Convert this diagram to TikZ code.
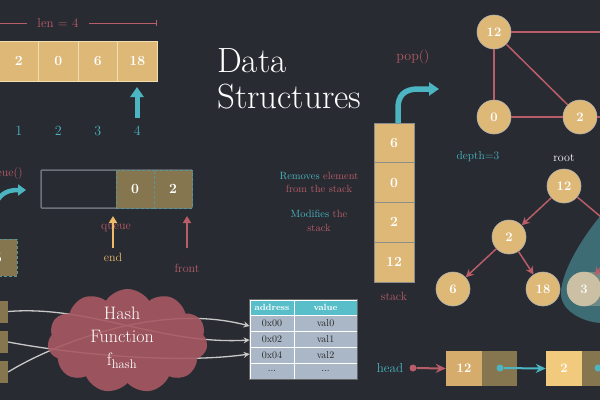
\documentclass[tikz,border=0pt]{standalone}
\usetikzlibrary{shapes.symbols,arrows.meta}
\definecolor{bg}{RGB}{40,43,50}
\definecolor{gold}{RGB}{221,184,119}
\definecolor{golddk}{RGB}{214,172,108}
\definecolor{goldlt}{RGB}{242,202,126}
\definecolor{cyanc}{RGB}{75,182,194}
\definecolor{redc}{RGB}{185,93,104}
\definecolor{olive}{RGB}{133,118,80}
\definecolor{hdr}{RGB}{88,190,202}
\definecolor{rowc}{RGB}{169,183,198}
\definecolor{tealb}{RGB}{62,108,117}
\definecolor{pale}{RGB}{203,192,164}
\definecolor{cloudc}{RGB}{168,88,98}
\definecolor{grayl}{RGB}{200,200,200}
\definecolor{qborder}{RGB}{108,114,124}
\definecolor{cream}{RGB}{243,222,178}
\definecolor{endc}{RGB}{236,186,106}
\definecolor{dashc}{RGB}{90,150,150}
\newcommand\fsz[1]{\fontsize{#1}{#1}\selectfont}
\tikzset{
  arrcell/.style={fill=gold, draw=cream, line width=0.8pt, minimum width=39.5pt, minimum height=40pt, inner sep=0pt, text=white, font=\fsz{14}\bfseries},
  stkcell/.style={fill=gold, draw=black!45, line width=1pt, minimum width=40pt, minimum height=39.75pt, inner sep=0pt, text=white, font=\fsz{14}\bfseries},
  qcell/.style={fill=olive, draw=dashc, dashed, dash pattern=on 3pt off 2pt, line width=0.8pt, minimum width=38pt, minimum height=38pt, inner sep=0pt, text=white, font=\fsz{14}\bfseries},
  gnode/.style={circle, fill=gold, draw=black!30, line width=0.6pt, minimum size=34pt, inner sep=0pt, text=white, font=\fsz{13}\bfseries},
  gedge/.style={redc, line width=1.5pt},
  tedge/.style={redc, line width=1.5pt, -{Stealth[length=8pt,width=8pt]}},
  bigarrow/.style={cyanc, line width=5pt, -{Triangle[length=10pt,width=13pt]}},
  lbl/.style={inner sep=0pt, font=\fsz{12}},
  tcell/.style={fill=rowc, draw=white, line width=0.8pt, minimum height=16pt, inner sep=0pt, text=black!85, font=\fsz{10}},
  thead/.style={tcell, fill=hdr, text=white, font=\fsz{9}\bfseries, minimum height=15pt},
  hline/.style={grayl, line width=1.3pt, -{Stealth[length=6pt,width=6pt]}},
  lcell/.style={minimum width=36pt, minimum height=35pt, inner sep=0pt, text=white, font=\fsz{13}\bfseries},
  dot/.style={circle, minimum size=7pt, inner sep=0pt},
  larrow/.style={line width=2pt, -{Stealth[length=10pt,width=9pt]}}
}
\begin{document}
\begin{tikzpicture}[x=1pt,y=-1pt]
\useasboundingbox (0,0) rectangle (600,400);
\fill[bg] (0,0) rectangle (600,400);

% ---------- array ----------
\foreach \v [count=\i] in {2,0,6,18} {
  \node[arrcell] (a\i) at ({-1+39.5*(\i-0.5)},61) {\v};
  \node[lbl, text=cyanc, font=\fsz{14}] (idx\i) at ({-1+39.5*(\i-0.5)},131) {\i};
}
\coordinate (l0) at (-5,23);
\coordinate (l1) at (157,23);
\node[lbl, text=redc, font=\fsz{13}, inner xsep=10pt] (len) at (58,23) {len = 4};
\draw[redc, line width=1pt] (l0) -- (len.west);
\draw[redc, line width=1pt, -{Bar[width=6pt]}] (len.east) -- (l1);
\coordinate (ar0) at (137,118);
\coordinate (ar1) at (137,87);
\draw[bigarrow] (ar0) -- (ar1);

% ---------- title ----------
\node[anchor=base west, inner sep=0pt, text=white, font=\fsz{35}] (t1) at (217,72) {Data};
\node[anchor=base west, inner sep=0pt, text=white, font=\fsz{35}] (t2) at (217,108) {Structures};

% ---------- stack ----------
\node[lbl, text=redc, font=\fsz{14}] (pop) at (413,57) {pop()};
\foreach \v [count=\i] in {6,0,2,12} {
  \node[stkcell] (s\i) at (394,{123+39.75*(\i-0.5)}) {\v};
}
\node[lbl, text=redc] (stk) at (394,296) {stack};
\coordinate (p0) at (398,123);
\coordinate (p1) at (439,89);
\draw[cyanc, line width=5.5pt, -{Triangle[length=10pt,width=13pt]}] (p0) -- (398,108) .. controls (398,96) and (404,89) .. (418,89) -- (p1);

\node[align=center, inner sep=0pt, font=\fontsize{10.5}{13}\selectfont] (rm) at (319,182.5)
  {\textcolor{cyanc}{Removes} \textcolor{redc}{element}\\\textcolor{redc}{from the stack}};
\node[align=center, inner sep=0pt, font=\fontsize{10.5}{14}\selectfont] (md) at (319,221)
  {\textcolor{cyanc}{Modifies} \textcolor{redc}{the}\\\textcolor{redc}{stack}};

% ---------- graph ----------
\node[gnode] (g12) at (494,32) {12};
\node[gnode] (g0) at (494,117) {0};
\node[gnode] (g2) at (580,117) {2};
\coordinate (gr1) at (640,32);
\coordinate (gr2) at (640,117);
\draw[gedge] (g12) -- (g0);
\draw[gedge] (g12) -- (g2);
\draw[gedge] (g0) -- (g2);
\draw[gedge] (g12) -- (gr1);
\draw[gedge] (g2) -- (gr2);

% ---------- tree ----------
\fill[tealb] (602,214) .. controls (580,240) and (560,275) .. (561,295) .. controls (562,312) and (585,323) .. (603,323) -- cycle;
\fill[pale, opacity=0.35] (584,272) rectangle (602,306);
\node[lbl, text=cyanc, font=\fsz{11.5}] (dep) at (478,157) {depth=3};
\node[lbl, text=white] (root) at (564,158) {root};
\node[gnode] (t12) at (564,186) {12};
\node[gnode] (t2) at (509,237) {2};
\node[gnode] (t6) at (453,289) {6};
\node[gnode] (t18) at (543,289) {18};
\node[gnode, fill=pale, draw=pale, text=white!92!pale] (t3) at (584,289) {3};
\coordinate (trc) at (625,237);
\draw[tedge] (t12) -- (t2);
\draw[tedge] (t2) -- (t6);
\draw[tedge] (t2) -- (t18);
\draw[gedge] (t12) -- (trc);
\draw[tedge] (trc) -- (t3);

% ---------- queue ----------
\node[lbl, text=redc, anchor=east] (enq) at (23,173) {enqueue()};
\coordinate (c0) at (-3,201);
\coordinate (c1) at (26,190);
\draw[cyanc, line width=4.5pt, -{Triangle[length=8pt,width=11pt]}] (c0) .. controls (2,193) and (8,190) .. (c1);
\node[draw=qborder, line width=1.5pt, minimum width=151pt, minimum height=38pt, inner sep=0pt, rounded corners=1pt] (qbox) at (116.5,189) {};
\node[qcell] (q1) at (135,189) {0};
\node[qcell] (q2) at (173,189) {2};
\node[lbl, text=redc] (qlab) at (116,228) {queue};
\coordinate (e0) at (113,248);
\coordinate (e1) at (113,216);
\draw[endc, line width=2.5pt, -{Triangle[length=7pt,width=8pt]}] (e0) -- (e1);
\node[lbl, text=endc] (endl) at (113,257) {end};
\coordinate (f0) at (187,248);
\coordinate (f1) at (187,216);
\draw[redc, line width=2.5pt, -{Triangle[length=7pt,width=8pt]}] (f0) -- (f1);
\node[lbl, text=redc] (frl) at (187,268) {front};
\node[qcell, minimum height=37pt] (lb) at (-2,257.5) {5};

% ---------- hash ----------
\node[fill=olive, minimum width=38pt, minimum height=22pt, inner sep=0pt] (h1) at (-11,311.5) {};
\node[fill=olive, minimum width=38pt, minimum height=22pt, inner sep=0pt] (h2) at (-11,342) {};
\node[fill=olive, minimum width=38pt, minimum height=22pt, inner sep=0pt] (h3) at (-11,372) {};

% table
\node[thead, minimum width=44pt] (hd1) at (272,307.5) {address};
\node[thead, minimum width=63pt] (hd2) at (325.5,307.5) {value};
\node[tcell, minimum width=44pt] (r1a) at (272,323) {0x00};
\node[tcell, minimum width=63pt] (r1b) at (325.5,323) {val0};
\node[tcell, minimum width=44pt] (r2a) at (272,339) {0x02};
\node[tcell, minimum width=63pt] (r2b) at (325.5,339) {val1};
\node[tcell, minimum width=44pt] (r3a) at (272,355) {0x04};
\node[tcell, minimum width=63pt] (r3b) at (325.5,355) {val2};
\node[tcell, minimum width=44pt] (r4a) at (272,371) {...};
\node[tcell, minimum width=63pt] (r4b) at (325.5,371) {...};
\draw[black!60, line width=0.6pt] (hd1.north west) rectangle (r4b.south east);

\draw[hline] (h1.east) .. controls (90,305) and (160,345) .. ([yshift=-1pt]r2a.west);
\draw[hline] (h2.east) .. controls (60,352) and (170,365) .. ([yshift=1pt]r3a.west);
\draw[hline] (h3.east) .. controls (40,352) and (150,300) .. ([yshift=-3pt]r1a.west);

\node[cloud, cloud puffs=11, cloud puff arc=115, aspect=1.5, fill=cloudc, fill opacity=0.9, minimum width=160pt, minimum height=104pt, inner sep=0pt] (cloud) at (127.5,341) {};
\node[align=center, inner sep=0pt, text=white, font=\fontsize{18}{23}\selectfont] (htxt) at (122,338) {Hash\\Function\\f\textsubscript{hash}};

% ---------- linked list ----------
\node[lbl, text=cyanc, font=\fsz{13}] (head) at (390,368) {head};
\node[dot, fill=redc] (hdot) at (413,368) {};
\node[lcell, fill=golddk] (l1a) at (464,368.5) {12};
\node[lcell, fill=olive, minimum width=35pt] (l1b) at (499.5,368.5) {};
\node[lcell, fill=goldlt] (l2a) at (564,368.5) {2};
\node[lcell, fill=olive] (l2b) at (600,368.5) {};
\node[dot, fill=cyanc] (d1) at (500,368) {};
\node[dot, fill=cyanc] (d2) at (598,368) {};
\draw[larrow, redc] (hdot) -- (l1a.west);
\draw[larrow, cyanc] (d1) -- (l2a.west);
\end{tikzpicture}
\end{document}
